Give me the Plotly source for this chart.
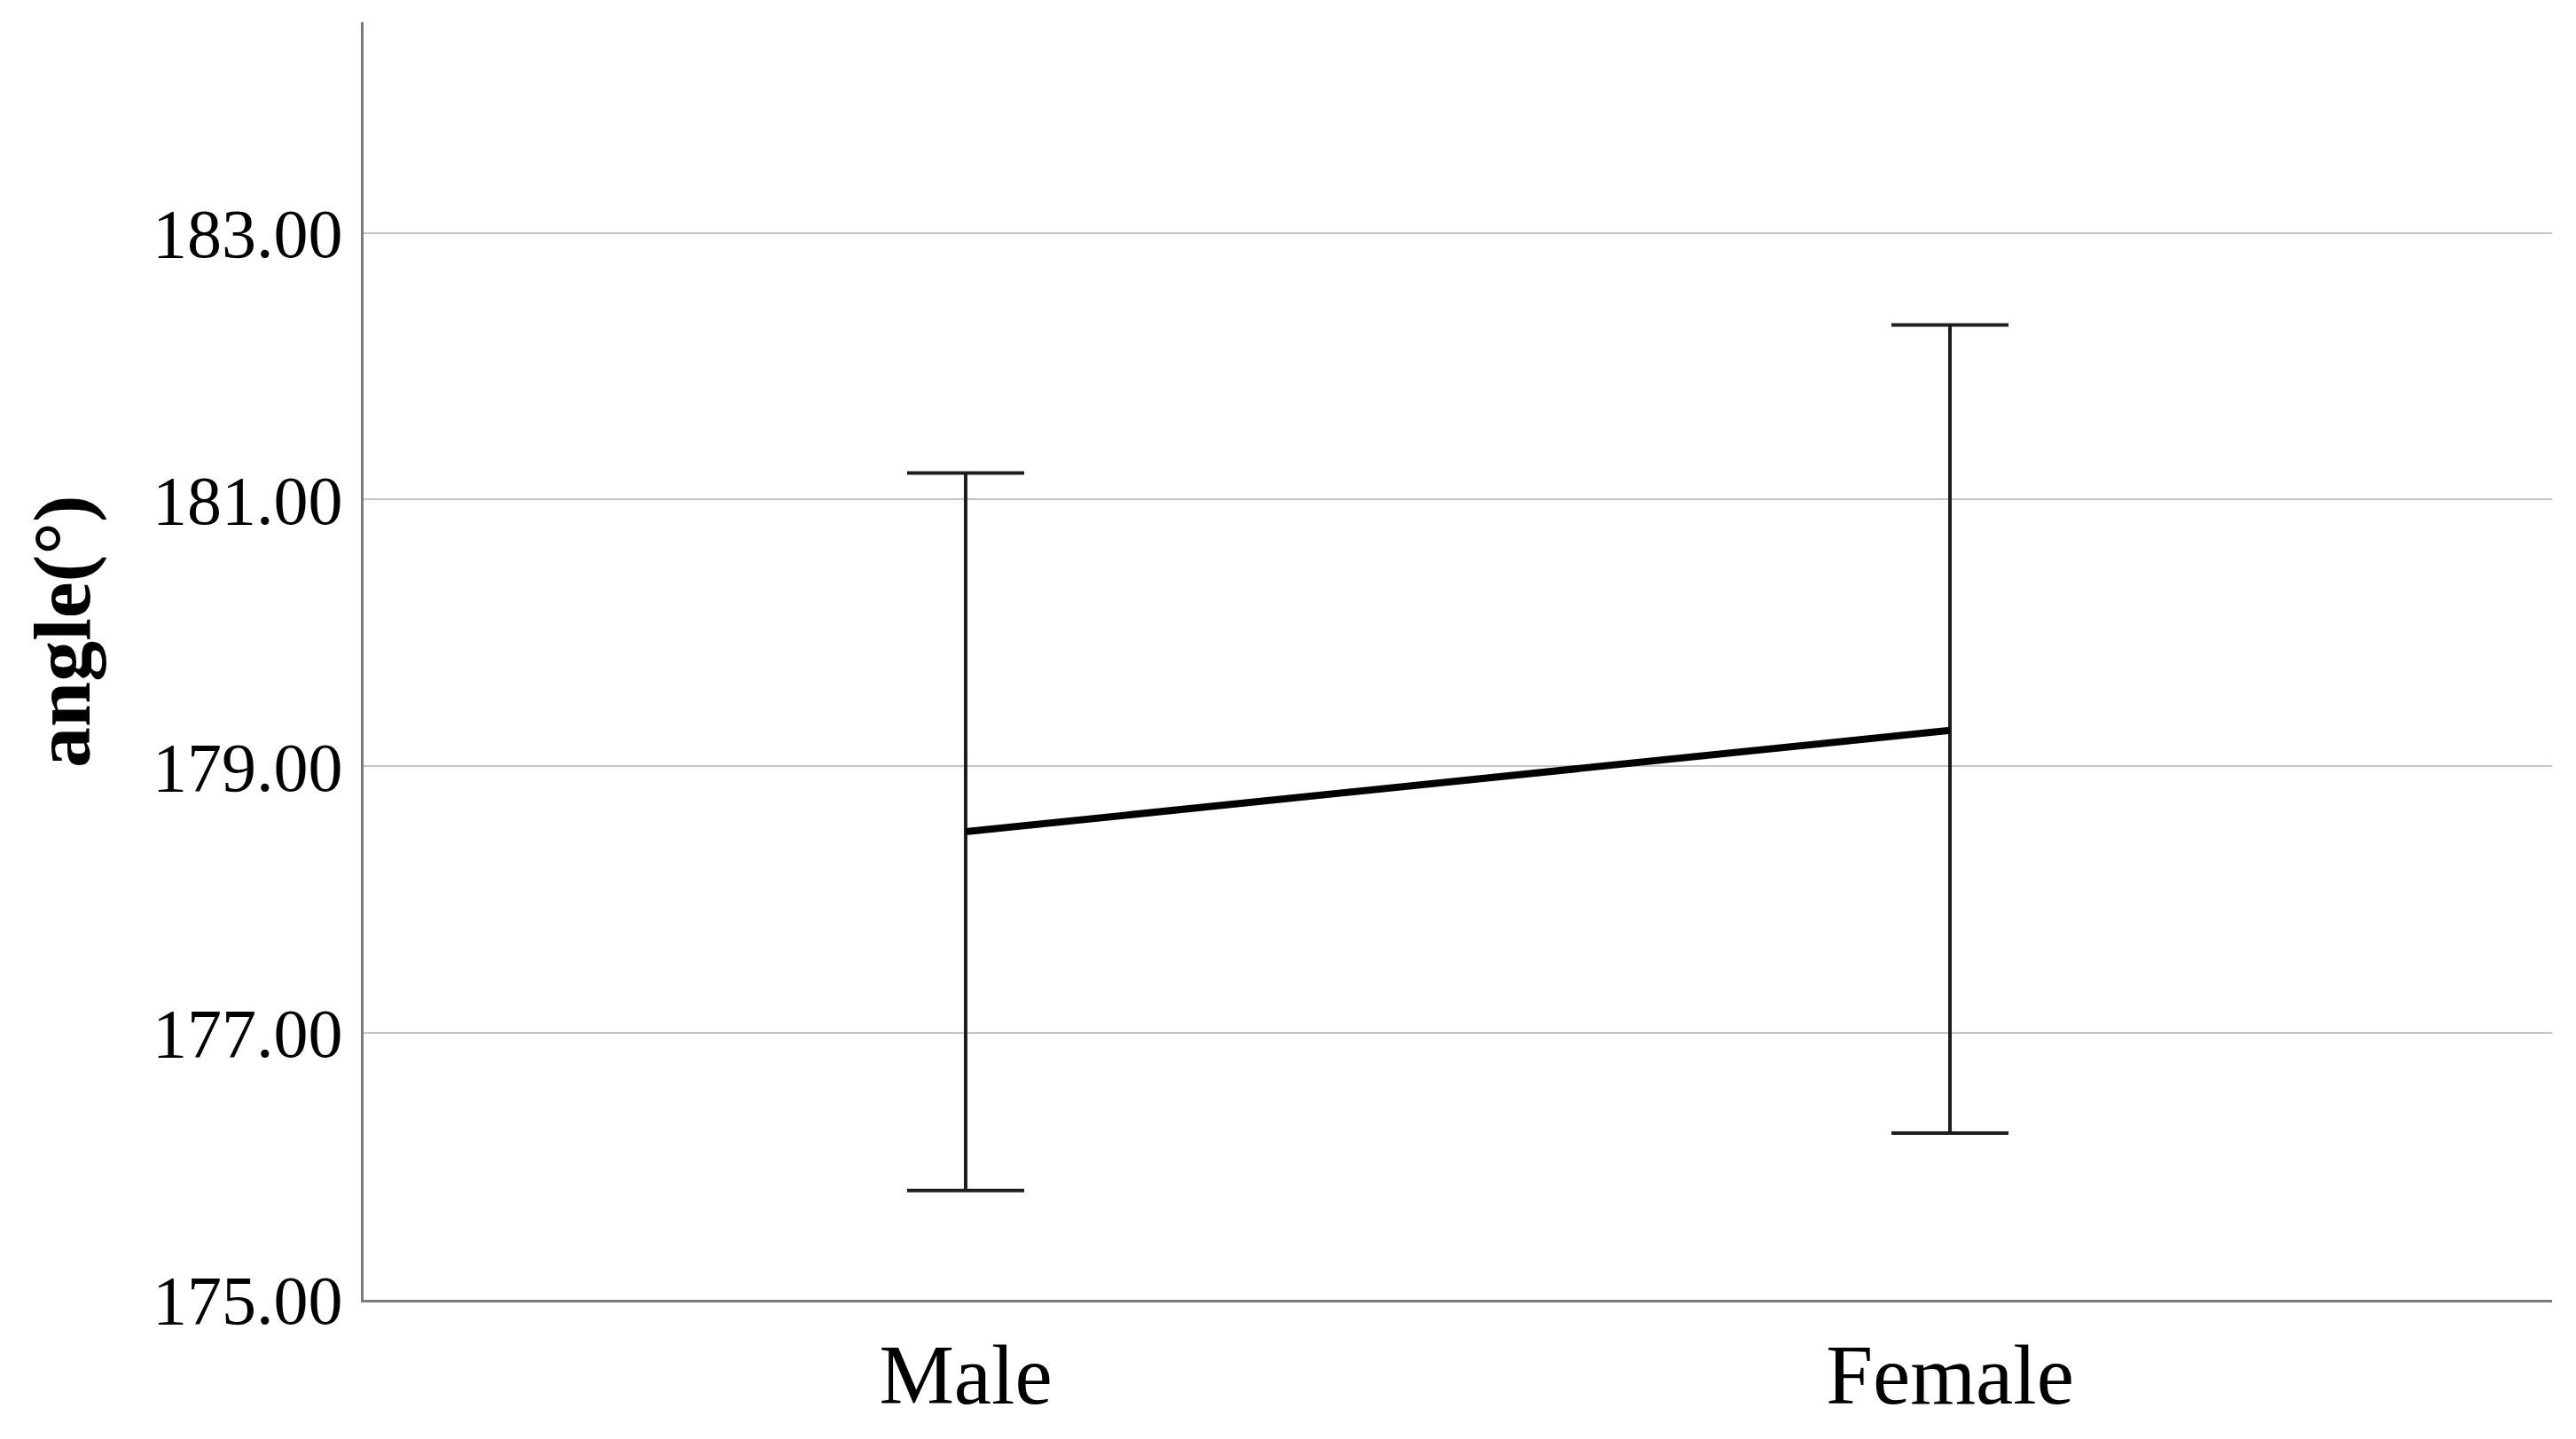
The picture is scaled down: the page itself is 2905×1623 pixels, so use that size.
import plotly.graph_objects as go

categories = ["Male", "Female"]
means = [178.51, 179.27]
upper = [181.20, 182.31]
lower = [175.82, 176.25]
y_ticks = [175, 177, 179, 181, 183]
y_tick_labels = ["175.00", "177.00", "179.00", "181.00", "183.00"]

err_plus = [u - m for u, m in zip(upper, means)]
err_minus = [m - l for m, l in zip(means, lower)]

# page body adds an 8px margin; compensate
OFF = 8
W, H = 2905 - 2 * OFF, 1623 - 2 * OFF
L, R, T, B = 410 - OFF, 2905 - 2878 - OFF, 25 - OFF, 1623 - 1466 - OFF

fig = go.Figure()
fig.add_trace(go.Scatter(
    x=[0, 1], y=means, mode="markers",
    marker=dict(size=1, color="rgba(0,0,0,0)"),
    error_y=dict(type="data", symmetric=False, array=err_plus, arrayminus=err_minus,
                 color="#1e1e1e", thickness=4, width=66),
    showlegend=False, hoverinfo="skip"))
fig.add_trace(go.Scatter(
    x=[0, 1], y=means, mode="lines",
    line=dict(color="#000000", width=8),
    showlegend=False))

fig.update_layout(
    width=W, height=H,
    margin=dict(l=L, r=R, t=T, b=B, autoexpand=False),
    paper_bgcolor="white", plot_bgcolor="white",
    font=dict(family="Liberation Serif, Times New Roman, serif", color="#000000"),
    annotations=[dict(
        text="<b>angle(°)</b>", textangle=-90,
        xref="paper", yref="paper",
        x=(70 - 410) / (2878 - 410), y=(1466 - 712) / (1466 - 25),
        xanchor="center", yanchor="middle", showarrow=False,
        font=dict(size=92, family="Liberation Serif, Times New Roman, serif", color="#000000"))],
)
fig.update_xaxes(
    range=[-0.6117, 1.6117],
    tickvals=[0, 1], ticktext=categories,
    tickfont=dict(size=95),
    showgrid=False, zeroline=False,
    showline=True, linecolor="#7a7a7a", linewidth=3,
    ticks="",
)
fig.update_yaxes(
    range=[175, 184.58],
    tickvals=y_ticks, ticktext=y_tick_labels,
    tickfont=dict(size=78),
    showgrid=True, gridcolor="#c4c4c4", gridwidth=2,
    zeroline=False,
    showline=True, linecolor="#7a7a7a", linewidth=3,
    ticks="outside", ticklen=5, tickcolor="rgba(0,0,0,0)",
)

fig.write_html("out.html")
